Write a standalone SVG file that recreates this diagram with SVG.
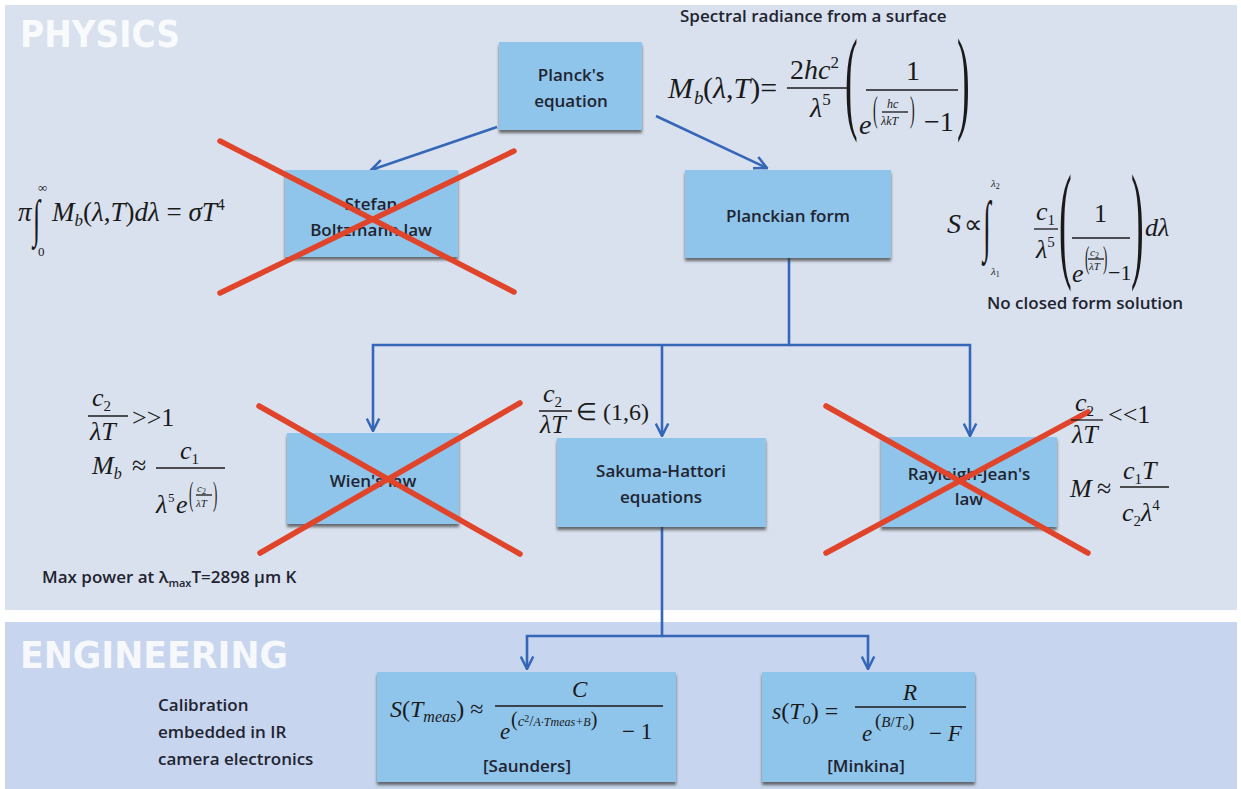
<svg xmlns="http://www.w3.org/2000/svg" width="1241" height="789" viewBox="0 0 1241 789">
<defs>
<style>
.box{fill:#8fc4eb;filter:url(#sh);}
.lbl{font-family:"Open Sans",Lato,sans-serif;font-weight:600;font-size:17px;fill:#1f2430;text-anchor:middle;}
.txt{font-family:"Open Sans",Lato,sans-serif;font-weight:600;font-size:17px;fill:#1f2430;}
.title{font-family:"DejaVu Sans",sans-serif;font-weight:700;fill:#ffffff;fill-opacity:0.85;}
.m{font-family:"Liberation Serif",serif;fill:#1a1a1a;}
.i{font-style:italic;}
.bar{stroke:#1a1a1a;stroke-width:1.3;}
.conn{fill:none;stroke:#3566b8;stroke-width:2.6;}
.x{stroke:#e0452b;stroke-width:5.5;stroke-linecap:round;}
</style>
<filter id="sh" x="-10%" y="-10%" width="120%" height="130%">
<feDropShadow dx="0" dy="3" stdDeviation="1.8" flood-color="#333" flood-opacity="0.7"/>
</filter>
<marker id="ah" viewBox="0 0 12 12" refX="11" refY="6" markerWidth="15" markerHeight="15" orient="auto" markerUnits="userSpaceOnUse">
<path d="M1,1 L11,6 L1,11" fill="none" stroke="#3566b8" stroke-width="2"/>
</marker>
</defs>

<rect x="0" y="0" width="1241" height="789" fill="#ffffff"/>
<rect x="5" y="5" width="1232" height="605" fill="#d9e1ee"/>
<rect x="5" y="622" width="1232" height="167" fill="#c7d5ee"/>

<text class="title" x="20" y="47" font-size="38" textLength="160" lengthAdjust="spacingAndGlyphs">PHYSICS</text>
<text class="title" x="20" y="668" font-size="38" textLength="268" lengthAdjust="spacingAndGlyphs">ENGINEERING</text>

<g id="connectors">
<path class="conn" d="M497,127 L371,170" marker-end="url(#ah)"/>
<path class="conn" d="M656,116 L767,168" marker-end="url(#ah)"/>
<path class="conn" d="M789,258 V345 H373 V431" marker-end="url(#ah)"/>
<path class="conn" d="M789,345 H970 V436" marker-end="url(#ah)"/>
<path class="conn" d="M662,345 V436" marker-end="url(#ah)"/>
<path class="conn" d="M662,527 V636 H527 V669" marker-end="url(#ah)"/>
<path class="conn" d="M662,636 H868 V669" marker-end="url(#ah)"/>
</g>

<g id="planck">
<rect class="box" x="499" y="42" width="143" height="88"/>
<text class="lbl" x="571" y="81">Planck's</text>
<text class="lbl" x="571" y="107">equation</text>
</g>

<g id="stefan">
<rect class="box" x="285" y="170" width="173" height="87"/>
<text class="lbl" x="371" y="210">Stefan</text>
<text class="lbl" x="371" y="236">Boltzmann law</text>
</g>

<g id="planckian">
<rect class="box" x="685" y="170" width="206" height="88"/>
<text class="lbl" x="788" y="222">Planckian form</text>
</g>

<g id="wien">
<rect class="box" x="287" y="433" width="172" height="91"/>
<text class="lbl" x="373" y="487">Wien's law</text>
</g>

<g id="sakuma">
<rect class="box" x="557" y="438" width="209" height="89"/>
<text class="lbl" x="661" y="477">Sakuma-Hattori</text>
<text class="lbl" x="661" y="503">equations</text>
</g>

<g id="rayleigh">
<rect class="box" x="881" y="437" width="176" height="90"/>
<text class="lbl" x="969" y="480">Rayleigh-Jean's</text>
<text class="lbl" x="969" y="505">law</text>
</g>

<g id="saunders">
<rect class="box" x="377" y="672" width="299" height="110"/>
<text class="m" x="390" y="717" font-size="24"><tspan class="i">S</tspan>(<tspan class="i">T</tspan><tspan class="i" font-size="16" dy="5">meas</tspan><tspan dy="-5">) ≈</tspan></text>
<text class="m i" x="572" y="697" font-size="23">C</text>
<line class="bar" x1="495" y1="706" x2="663" y2="706"/>
<text class="m i" x="500" y="739" font-size="23">e</text>
<text class="m" x="511" y="726" font-size="15"><tspan font-size="20">(</tspan><tspan class="i">c</tspan><tspan font-size="10" dy="-4">2</tspan><tspan dy="4">/</tspan><tspan class="i" font-size="12">A·T</tspan><tspan class="i" font-size="12">meas</tspan><tspan class="i" font-size="12">+B</tspan><tspan font-size="20">)</tspan></text>
<text class="m" x="622" y="739" font-size="23">− 1</text>
<text class="lbl" x="527" y="772">[Saunders]</text>
</g>

<g id="minkina">
<rect class="box" x="762" y="672" width="213" height="110"/>
<text class="m" x="772" y="719" font-size="24"><tspan class="i">s</tspan>(<tspan class="i">T</tspan><tspan class="i" font-size="16" dy="5">o</tspan><tspan dy="-5">) =</tspan></text>
<text class="m i" x="903" y="700" font-size="23">R</text>
<line class="bar" x1="855" y1="707" x2="966" y2="707"/>
<text class="m i" x="862" y="741" font-size="23">e</text>
<text class="m" x="875" y="727" font-size="15"><tspan font-size="19">(</tspan><tspan class="i">B</tspan>/<tspan class="i">T</tspan><tspan class="i" font-size="10" dy="3">o</tspan><tspan font-size="19" dy="-3">)</tspan></text>
<text class="m" x="929" y="741" font-size="23">− <tspan class="i">F</tspan></text>
<text class="lbl" x="866" y="772">[Minkina]</text>
</g>

<g id="crosses">
<line class="x" x1="220" y1="141" x2="514" y2="292"/>
<line class="x" x1="220" y1="293" x2="514" y2="151"/>
<line class="x" x1="259" y1="406" x2="520" y2="554"/>
<line class="x" x1="260" y1="553" x2="520" y2="403"/>
<line class="x" x1="826" y1="406" x2="1088" y2="553"/>
<line class="x" x1="826" y1="553" x2="1088" y2="412"/>
</g>

<g id="annotations">
<text class="txt" x="680" y="22">Spectral radiance from a surface</text>

<text class="m i" x="668" y="98" font-size="30">M</text>
<text class="m i" x="694" y="104" font-size="19">b</text>
<text class="m" x="703" y="98" font-size="30">(<tspan class="i">λ</tspan>,<tspan class="i">T</tspan>)=</text>
<text class="m" x="790" y="79" font-size="28">2<tspan class="i">hc</tspan><tspan font-size="17" dy="-11">2</tspan></text>
<line class="bar" x1="787" y1="88" x2="850" y2="88"/>
<text class="m i" x="810" y="117" font-size="28">λ<tspan font-size="17" dy="-12" font-style="normal">5</tspan></text>
<text class="m" font-size="38" transform="translate(845,118) scale(1,3.0)">(</text>
<text class="m" x="906" y="80" font-size="28">1</text>
<line class="bar" x1="866" y1="90" x2="958" y2="90"/>
<text class="m i" x="859" y="134" font-size="28">e</text>
<text class="m" font-size="14" transform="translate(873,121) scale(1,2.5)">(</text>
<text class="m i" x="887" y="108" font-size="12">hc</text>
<line class="bar" x1="882" y1="112" x2="908" y2="112" stroke-width="0.8"/>
<text class="m i" x="881" y="125" font-size="12">λkT</text>
<text class="m" font-size="14" transform="translate(910,121) scale(1,2.5)">)</text>
<text class="m" x="924" y="131" font-size="28">−1</text>
<text class="m" font-size="38" transform="translate(957,118) scale(1,3.0)">)</text>

<text class="m i" x="18" y="221" font-size="27">π</text>
<text class="m" font-size="26" transform="translate(33,236) scale(1,2)">∫</text>
<text class="m" x="38" y="192" font-size="13">∞</text>
<text class="m" x="38" y="256" font-size="13">0</text>
<text class="m" x="52" y="221" font-size="27"><tspan class="i">M</tspan><tspan class="i" font-size="17" dy="5">b</tspan><tspan dy="-5">(</tspan><tspan class="i">λ</tspan>,<tspan class="i">T</tspan>)<tspan class="i">dλ</tspan> = <tspan class="i">σT</tspan><tspan font-size="16" dy="-11">4</tspan></text>

<text class="m i" x="947" y="233" font-size="28">S</text>
<text class="m" x="964" y="233" font-size="26">∝</text>
<text class="m" font-size="28" transform="translate(983,248) scale(1,2.4)">∫</text>
<text class="m i" x="991" y="187" font-size="11">λ<tspan font-size="8" font-style="normal" dy="2">2</tspan></text>
<text class="m i" x="991" y="275" font-size="11">λ<tspan font-size="8" font-style="normal" dy="2">1</tspan></text>
<text class="m i" x="1036" y="220" font-size="26">c<tspan font-size="15" font-style="normal" dy="5">1</tspan></text>
<line class="bar" x1="1034" y1="229" x2="1058" y2="229"/>
<text class="m i" x="1036" y="258" font-size="26">λ<tspan font-size="15" font-style="normal" dy="-11">5</tspan></text>
<text class="m" font-size="38" transform="translate(1059,264) scale(1,3.4)">(</text>
<text class="m" x="1094" y="222" font-size="26">1</text>
<line class="bar" x1="1072" y1="238" x2="1130" y2="238"/>
<text class="m i" x="1072" y="282" font-size="26">e</text>
<text class="m" font-size="13" transform="translate(1085,268) scale(1,2.4)">(</text>
<text class="m i" x="1090" y="256" font-size="11">c<tspan font-size="8" font-style="normal" dy="2">2</tspan></text>
<line class="bar" x1="1088" y1="259" x2="1104" y2="259" stroke-width="0.8"/>
<text class="m i" x="1089" y="270" font-size="11">λT</text>
<text class="m" font-size="13" transform="translate(1103,268) scale(1,2.4)">)</text>
<text class="m" x="1108" y="280" font-size="22">−1</text>
<text class="m" font-size="38" transform="translate(1131,264) scale(1,3.4)">)</text>
<text class="m i" x="1145" y="236" font-size="26">dλ</text>
<text class="txt" x="987" y="309">No closed form solution</text>

<text class="m i" x="92" y="406" font-size="26">c<tspan font-size="15" font-style="normal" dy="5">2</tspan></text>
<line class="bar" x1="88" y1="416" x2="128" y2="416"/>
<text class="m i" x="90" y="440" font-size="26">λT</text>
<text class="m" x="132" y="426" font-size="26">&gt;&gt;1</text>
<text class="m i" x="92" y="474" font-size="26">M<tspan font-size="16" dy="5">b</tspan></text>
<text class="m" x="132" y="474" font-size="26">≈</text>
<text class="m i" x="180" y="459" font-size="26">c<tspan font-size="15" font-style="normal" dy="5">1</tspan></text>
<line class="bar" x1="156" y1="468" x2="225" y2="468"/>
<text class="m i" x="156" y="513" font-size="26">λ</text>
<text class="m" x="168" y="502" font-size="13">5</text>
<text class="m i" x="176" y="513" font-size="26">e</text>
<text class="m" font-size="13" transform="translate(189,505) scale(1,2.6)">(</text>
<text class="m i" x="197" y="492" font-size="11">c<tspan font-size="8" font-style="normal" dy="2">2</tspan></text>
<line class="bar" x1="196" y1="495" x2="212" y2="495" stroke-width="0.8"/>
<text class="m i" x="196" y="507" font-size="11">λT</text>
<text class="m" font-size="13" transform="translate(213,505) scale(1,2.6)">)</text>
<text class="txt" x="42" y="583">Max power at λ<tspan font-size="11" dy="4">max</tspan><tspan dy="-4">T=2898 μm K</tspan></text>

<text class="m i" x="543" y="402" font-size="26">c<tspan font-size="15" font-style="normal" dy="5">2</tspan></text>
<line class="bar" x1="539" y1="411" x2="572" y2="411"/>
<text class="m i" x="540" y="433" font-size="26">λT</text>
<text class="m" x="576" y="420" font-size="24">∈ (1,6)</text>

<text class="m i" x="1075" y="411" font-size="26">c<tspan font-size="15" font-style="normal" dy="5">2</tspan></text>
<line class="bar" x1="1071" y1="420" x2="1103" y2="420"/>
<text class="m i" x="1072" y="443" font-size="26">λT</text>
<text class="m" x="1108" y="423" font-size="26">&lt;&lt;1</text>
<text class="m i" x="1070" y="497" font-size="26">M</text>
<text class="m" x="1097" y="497" font-size="26">≈</text>
<text class="m i" x="1123" y="479" font-size="26">c<tspan font-size="15" font-style="normal" dy="5">1</tspan><tspan dy="-5">T</tspan></text>
<line class="bar" x1="1120" y1="487" x2="1169" y2="487"/>
<text class="m i" x="1122" y="521" font-size="26">c<tspan font-size="15" font-style="normal" dy="5">2</tspan><tspan dy="-5">λ</tspan><tspan font-size="15" font-style="normal" dy="-11">4</tspan></text>

<text class="txt" x="158" y="711">Calibration</text>
<text class="txt" x="158" y="738">embedded in IR</text>
<text class="txt" x="158" y="765">camera electronics</text>
</g>
</svg>
